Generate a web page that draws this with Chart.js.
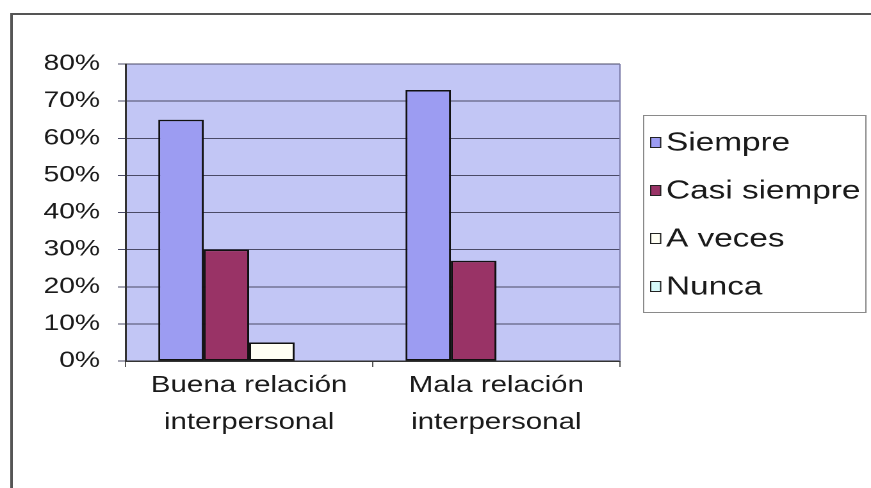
<!DOCTYPE html>
<html>
<head>
<meta charset="utf-8">
<script src="https://cdn.jsdelivr.net/npm/chart.js@4.4.1/dist/chart.umd.min.js"></script>
<style>
  html, body { margin: 0; padding: 0; background: #fff; overflow: hidden; }
</style>
</head>
<body>
<!-- drawn at 680 wide and shown at 871: the original text is stretched sideways -->
<canvas id="chart" width="680" height="488" style="width:871px;height:488px"></canvas>
<script>
const categories = [['Buena relación', 'interpersonal'], ['Mala relación', 'interpersonal']];
const seriesNames = ['Siempre', 'Casi siempre', 'A veces', 'Nunca'];
const siempre = [65, 73];
const casiSiempre = [30, 27];
const aVeces = [5, 0];
const nunca = [0, 0];
const yTicks = [0, 10, 20, 30, 40, 50, 60, 70, 80];

const seriesValues = [siempre, casiSiempre, aVeces, nunca];
const seriesColors = ['#9C9CF2', '#993366', '#FFFFF4', '#D6FAFA'];

// the built-in legend gets clipped to a quarter of the width, so it is drawn here
const legendSpacing = 48;

const plotFrame = {
    id: 'plotFrame',
    beforeDraw(chart) {
        const { ctx, chartArea: a } = chart;
        ctx.save();
        ctx.fillStyle = '#C2C6F5';
        ctx.fillRect(a.left, a.top, a.right - a.left, a.bottom - a.top);
        ctx.restore();
    },
    afterDraw(chart) {
        const { ctx, chartArea: a } = chart;
        const sets = chart.data.datasets;
        ctx.save();
        // right edge of the plot area
        ctx.strokeStyle = '#7A7AA8';
        ctx.lineWidth = 1;
        ctx.beginPath();
        ctx.moveTo(a.right, a.top);
        ctx.lineTo(a.right, a.bottom);
        ctx.stroke();

        // legend
        const midY = (a.top + a.bottom) / 2 + 2;
        const firstY = midY - (sets.length - 1) / 2 * legendSpacing;
        const boxX = a.right + 24;
        ctx.font = '26px "Liberation Sans"';
        ctx.textBaseline = 'middle';
        ctx.textAlign = 'left';
        sets.forEach((ds, i) => {
            const y = firstY + i * legendSpacing;
            ctx.fillStyle = ds.backgroundColor;
            ctx.fillRect(boxX, y - 5, 7.8, 10);
            ctx.strokeStyle = '#222';
            ctx.lineWidth = 1;
            ctx.strokeRect(boxX, y - 5, 7.8, 10);
            ctx.fillStyle = '#1A1A1A';
            ctx.fillText(ds.label, boxX + 12, y + 1);
        });
        const top = firstY - 27;
        const bottom = firstY + (sets.length - 1) * legendSpacing + 26;
        ctx.strokeStyle = '#8A8A8A';
        ctx.strokeRect(boxX - 5.5, top, chart.width - 4 - (boxX - 5.5), bottom - top);

        // outer chart frame, cut off by the picture on the right and bottom
        ctx.strokeStyle = '#555';
        ctx.lineWidth = 2;
        ctx.strokeRect(9, 14, chart.width, chart.height);
        ctx.restore();
    }
};

const datasets = seriesNames.map((name, i) => ({
    label: name,
    data: seriesValues[i],
    backgroundColor: seriesColors[i],
    borderColor: '#111',
    borderWidth: ctx => (ctx.raw === 0 ? 0 : 1.5),
    borderSkipped: false,
    categoryPercentage: 0.735,
    barPercentage: 1
}));

new Chart(document.getElementById('chart'), {
    type: 'bar',
    data: { labels: categories, datasets: datasets },
    plugins: [plotFrame],
    options: {
        responsive: false,
        devicePixelRatio: 2,
        animation: false,
        layout: { padding: { top: 64, left: 0, right: 196, bottom: 0 } },
        plugins: {
            tooltip: { enabled: false },
            legend: { display: false }
        },
        scales: {
            x: {
                afterFit(scale) { scale.height = 127; },
                grid: { offset: true, drawOnChartArea: false, drawTicks: true, tickLength: 6, color: '#555' },
                border: { display: true, color: '#333', width: 1.5 },
                ticks: {
                    color: '#1A1A1A',
                    padding: 0,
                    maxRotation: 0,
                    font: { family: 'Liberation Sans', size: 23, lineHeight: 1.62 }
                }
            },
            y: {
                min: 0,
                max: 80,
                afterFit(scale) { scale.width = 98; },
                afterBuildTicks(scale) { scale.ticks = yTicks.map(v => ({ value: v })); },
                grid: { color: '#4A4A66', lineWidth: 1, tickLength: 6 },
                border: { display: true, color: '#333', width: 1.5 },
                ticks: {
                    color: '#1A1A1A',
                    padding: 14,
                    font: { family: 'Liberation Sans', size: 22 },
                    callback: v => v + '%'
                }
            }
        }
    }
});
</script>
</body>
</html>
